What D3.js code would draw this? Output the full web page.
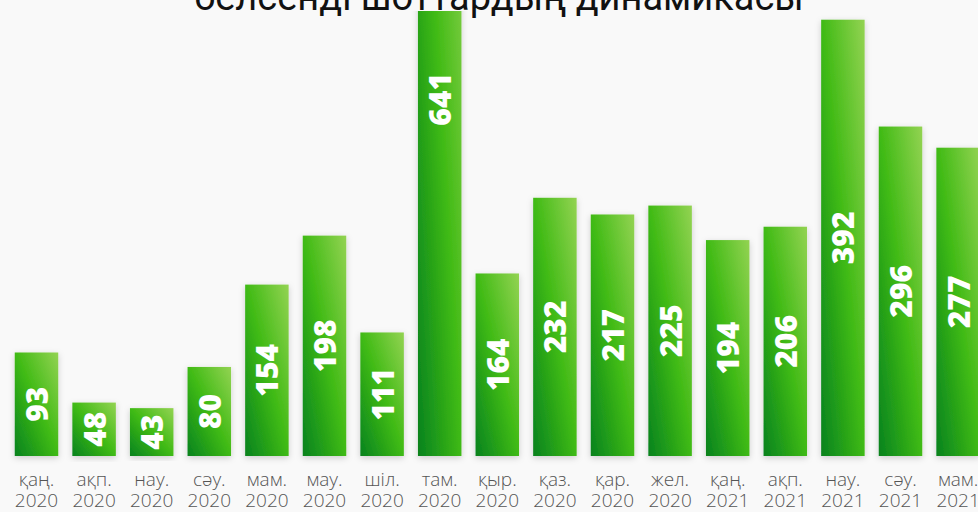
<!DOCTYPE html>
<html>
<head>
<meta charset="utf-8">
<script src="https://cdn.jsdelivr.net/npm/d3@7"></script>
<style>
  html, body { margin: 0; padding: 0; background: #f9f9f9; }
  svg { display: block; }
</style>
</head>
<body>
<div id="chart"></div>
<script>
// data
const months = ["қаң.", "ақп.", "нау.", "сәу.", "мам.", "мау.", "шіл.", "там.", "қыр.",
  "қаз.", "қар.", "жел.", "қаң.", "ақп.", "нау.", "сәу.", "мам."];
const years = ["2020", "2020", "2020", "2020", "2020", "2020", "2020", "2020", "2020",
  "2020", "2020", "2020", "2021", "2021", "2021", "2021", "2021"];
const values = [93, 48, 43, 80, 154, 198, 111, 641, 164, 232, 217, 225, 194, 206, 392, 296, 277];
const titleText = "белсенді шоттардың динамикасы";

const width = 978, height = 512;
const data = values.map((v, i) => ({ i, v, m: months[i], y: years[i] }));

const svg = d3.select("#chart").append("svg")
  .attr("width", width).attr("height", height);

const defs = svg.append("defs");
const grad = defs.append("linearGradient")
  .attr("id", "barGrad")
  .attr("x1", 0).attr("y1", 1).attr("x2", 1).attr("y2", 0);
grad.append("stop").attr("offset", "0%").attr("stop-color", "#07821f");
grad.append("stop").attr("offset", "50%").attr("stop-color", "#3fba14");
grad.append("stop").attr("offset", "100%").attr("stop-color", "#93d352");

const shadow = defs.append("filter").attr("id", "shadow")
  .attr("x", "-30%").attr("y", "-10%").attr("width", "160%").attr("height", "120%");
shadow.append("feDropShadow")
  .attr("dx", 0).attr("dy", 2).attr("stdDeviation", 3)
  .attr("flood-color", "#000").attr("flood-opacity", 0.18);

defs.append("clipPath").attr("id", "plotClip")
  .append("rect").attr("x", 0).attr("y", 11).attr("width", width).attr("height", height);

// scales (the chart is cropped on the right, so the band range runs past the edge)
const xScale = d3.scaleBand()
  .domain(d3.range(values.length))
  .range([7.7, 7.7 + 57.6 * values.length])
  .paddingInner(0.245)
  .paddingOuter(0.1225);

const yScale = d3.scaleLinear()
  .domain([0, 400])
  .range([456, 10.8]);

const plot = svg.append("g").attr("clip-path", "url(#plotClip)");

plot.selectAll("rect.bar")
  .data(data)
  .join("rect")
  .attr("class", "bar")
  .attr("x", d => xScale(d.i))
  .attr("width", xScale.bandwidth())
  .attr("y", d => yScale(d.v))
  .attr("height", d => yScale(0) - yScale(d.v))
  .attr("fill", "url(#barGrad)")
  .attr("filter", "url(#shadow)");

// value labels, rotated, centred on the full bar
plot.selectAll("text.val")
  .data(data)
  .join("text")
  .attr("class", "val")
  .attr("transform", d => {
    const cx = xScale(d.i) + xScale.bandwidth() / 2;
    const cy = (yScale(d.v) + yScale(0)) / 2;
    return `translate(${cx},${cy}) rotate(-90)`;
  })
  .attr("text-anchor", "middle")
  .attr("dominant-baseline", "central")
  .attr("fill", "#fff")
  .style("font-family", "'Open Sans', sans-serif")
  .style("font-weight", 800)
  .style("font-size", "30px")
  .text(d => d.v);

// x labels, two lines
const lbl = svg.selectAll("text.xlab")
  .data(data)
  .join("text")
  .attr("class", "xlab")
  .attr("text-anchor", "middle")
  .attr("fill", "#555")
  .style("font-family", "'Open Sans', sans-serif")
  .style("font-weight", 300)
  .style("font-size", "19px");
lbl.append("tspan")
  .attr("x", d => xScale(d.i) + xScale.bandwidth() / 2)
  .attr("y", 486)
  .text(d => d.m);
lbl.append("tspan")
  .attr("x", d => xScale(d.i) + xScale.bandwidth() / 2)
  .attr("y", 507)
  .text(d => d.y);

// title, cut off at the top in the reference
svg.append("text")
  .attr("x", 499)
  .attr("y", 10)
  .attr("text-anchor", "middle")
  .attr("fill", "#111")
  .style("font-family", "Roboto, sans-serif")
  .style("font-weight", 400)
  .style("font-size", "38px")
  .text(titleText);
</script>
</body>
</html>
